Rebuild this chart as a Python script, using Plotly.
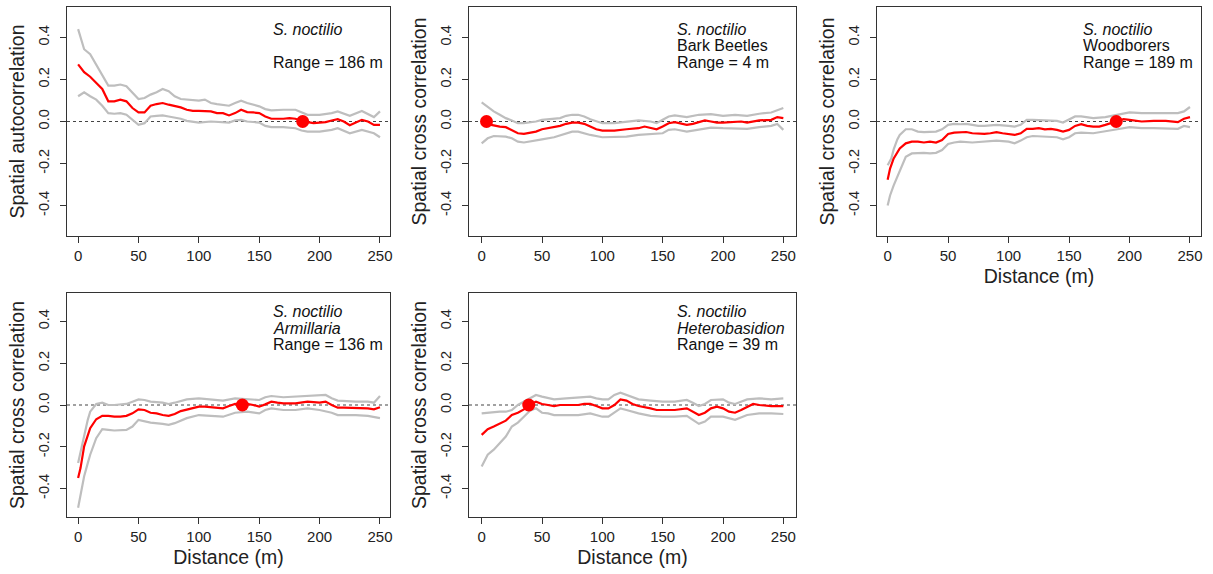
import plotly.graph_objects as go

# ---------------- data ----------------
# Panel 1: S. noctilio autocorrelation
d1_mid = [0,5,10,15,20,25,30,35,40,45,50,55,60,65,70,75,80,85,90,95,100,110,115,120,125,130,135,140,145,150,155,160,170,175,180,186,190,195,200,205,210,215,220,225,230,235,240,245,250]
r1_mid = [0.272,0.235,0.213,0.184,0.155,0.096,0.096,0.104,0.096,0.064,0.043,0.043,0.075,0.083,0.088,0.080,0.075,0.067,0.056,0.051,0.051,0.048,0.040,0.040,0.029,0.040,0.056,0.045,0.043,0.040,0.024,0.013,0.013,0.016,0.013,0.0,-0.003,-0.008,-0.005,-0.003,0.005,0.011,0.0,-0.018,-0.005,0.008,0.0,-0.016,-0.016]
d1_up = [0,5,10,15,20,25,30,35,40,45,50,55,60,65,70,75,80,85,90,95,100,105,110,115,120,125,130,135,140,145,150,155,160,170,180,190,200,210,215,225,235,245,250]
r1_up = [0.44,0.344,0.32,0.272,0.224,0.171,0.171,0.176,0.168,0.139,0.107,0.112,0.128,0.139,0.155,0.144,0.12,0.107,0.104,0.1,0.099,0.104,0.088,0.083,0.078,0.075,0.088,0.099,0.088,0.08,0.072,0.059,0.053,0.056,0.056,0.032,0.032,0.04,0.048,0.027,0.05,0.021,0.048]
d1_lo = [0,5,10,15,20,25,30,35,40,45,50,55,60,65,70,75,80,85,90,100,110,120,125,130,135,140,150,155,160,170,180,185,190,200,210,215,225,235,245,250]
r1_lo = [0.12,0.139,0.12,0.104,0.075,0.04,0.037,0.04,0.032,0.008,-0.016,-0.008,0.024,0.027,0.029,0.024,0.019,0.013,0.003,-0.005,0.0,-0.005,-0.005,0.005,0.008,0.0,-0.005,-0.021,-0.027,-0.027,-0.032,-0.043,-0.048,-0.048,-0.04,-0.032,-0.056,-0.04,-0.056,-0.075]

# Panel 2: S. noctilio x Bark Beetles
d2_mid = [0,4,8,10,15,20,25,30,35,40,45,50,55,60,65,70,75,80,85,90,95,100,110,120,130,135,140,145,150,155,160,165,170,175,180,185,190,195,200,210,215,220,225,230,240,245,250]
r2_mid = [0.008,0.0,-0.016,-0.019,-0.024,-0.027,-0.043,-0.056,-0.059,-0.053,-0.048,-0.037,-0.032,-0.024,-0.021,-0.011,-0.005,-0.005,-0.011,-0.024,-0.037,-0.043,-0.043,-0.037,-0.032,-0.024,-0.032,-0.037,-0.024,-0.008,-0.003,-0.011,-0.016,-0.011,-0.002,0.005,0.0,-0.005,-0.005,-0.003,0.0,-0.005,0.0,0.005,0.008,0.021,0.016]
d2_up = [0,5,10,15,20,25,30,35,40,45,50,55,60,65,70,75,80,85,90,95,100,110,120,130,140,145,150,155,160,170,180,190,200,210,220,230,240,250]
r2_up = [0.091,0.069,0.048,0.032,0.016,0.005,-0.008,-0.008,-0.005,0.0,0.008,0.011,0.016,0.016,0.027,0.032,0.032,0.024,0.011,0.0,-0.008,-0.008,0.0,0.005,0.0,-0.008,0.008,0.024,0.029,0.021,0.032,0.035,0.027,0.032,0.027,0.037,0.043,0.064]
d2_lo = [0,5,10,20,25,30,35,40,50,60,70,75,80,90,100,110,120,130,140,150,155,160,170,180,190,200,210,220,230,240,245,250]
r2_lo = [-0.104,-0.08,-0.069,-0.072,-0.08,-0.096,-0.1,-0.096,-0.085,-0.075,-0.056,-0.048,-0.048,-0.064,-0.075,-0.075,-0.072,-0.064,-0.059,-0.056,-0.04,-0.037,-0.048,-0.037,-0.029,-0.032,-0.032,-0.035,-0.027,-0.021,-0.012,-0.04]

# Panel 3: S. noctilio x Woodborers
d3_mid = [0,2,5,8,10,15,20,25,30,35,40,45,50,55,60,65,70,75,80,85,90,95,100,105,110,115,120,125,130,135,140,145,150,155,160,165,170,175,180,185,189,195,200,205,210,220,230,240,245,250]
r3_mid = [-0.277,-0.224,-0.176,-0.144,-0.128,-0.104,-0.096,-0.096,-0.1,-0.096,-0.1,-0.088,-0.059,-0.053,-0.053,-0.05,-0.056,-0.059,-0.059,-0.056,-0.051,-0.056,-0.061,-0.064,-0.056,-0.035,-0.035,-0.032,-0.037,-0.035,-0.04,-0.048,-0.04,-0.021,-0.013,-0.021,-0.024,-0.024,-0.016,-0.008,0.0,0.011,0.008,0.005,0.0,0.003,0.003,-0.003,0.013,0.021]
d3_up = [0,3,5,8,10,15,20,25,30,35,40,45,50,55,60,65,70,75,80,90,100,105,110,115,120,130,140,145,150,155,160,170,180,190,200,210,220,230,240,245,250]
r3_up = [-0.208,-0.176,-0.133,-0.085,-0.064,-0.037,-0.037,-0.048,-0.051,-0.051,-0.048,-0.037,-0.016,-0.011,-0.013,-0.011,-0.016,-0.021,-0.021,-0.016,-0.021,-0.024,-0.016,0.008,0.008,0.005,0.003,-0.005,0.008,0.024,0.024,0.016,0.021,0.032,0.043,0.04,0.04,0.04,0.04,0.048,0.069]
d3_lo = [0,2,5,8,10,15,20,25,30,35,40,45,50,55,60,70,80,90,100,105,110,115,120,130,140,145,150,155,160,170,180,190,200,210,220,230,240,245,250]
r3_lo = [-0.4,-0.352,-0.304,-0.264,-0.232,-0.168,-0.152,-0.149,-0.149,-0.152,-0.149,-0.136,-0.107,-0.1,-0.096,-0.1,-0.096,-0.091,-0.096,-0.104,-0.091,-0.075,-0.069,-0.072,-0.075,-0.085,-0.075,-0.056,-0.053,-0.056,-0.048,-0.037,-0.027,-0.032,-0.032,-0.032,-0.035,-0.021,-0.027]

# Panel 4: S. noctilio x Armillaria
d4_mid = [0,2,5,8,10,15,20,25,30,35,40,45,50,55,60,65,70,75,80,85,90,95,100,105,110,115,120,125,130,136,140,145,150,155,160,165,170,180,190,200,205,210,215,220,230,240,245,250]
r4_mid = [-0.349,-0.302,-0.198,-0.151,-0.111,-0.068,-0.052,-0.052,-0.056,-0.056,-0.052,-0.04,-0.021,-0.024,-0.037,-0.04,-0.048,-0.052,-0.043,-0.029,-0.021,-0.016,-0.008,-0.008,-0.011,-0.016,-0.016,-0.005,0.005,0.0,0.005,0.0,-0.008,0.003,0.016,0.011,0.008,0.008,0.016,0.011,0.016,0.0,-0.013,-0.013,-0.013,-0.016,-0.021,-0.011]
d4_up = [0,3,5,8,10,15,20,25,30,40,45,50,55,60,70,75,80,90,100,110,120,130,140,150,155,160,170,180,190,200,205,210,215,230,240,245,250]
r4_up = [-0.278,-0.198,-0.151,-0.071,-0.032,0.005,0.011,0.0,0.0,0.005,0.016,0.027,0.024,0.016,0.011,0.005,0.011,0.027,0.032,0.027,0.021,0.032,0.027,0.024,0.037,0.043,0.037,0.04,0.043,0.048,0.048,0.032,0.021,0.016,0.016,0.011,0.043]
d4_lo = [0,2,5,8,10,15,20,25,30,40,45,50,55,60,70,75,80,90,100,110,120,130,140,150,155,160,170,180,190,200,210,215,230,240,250]
r4_lo = [-0.492,-0.437,-0.341,-0.278,-0.238,-0.159,-0.116,-0.119,-0.122,-0.119,-0.103,-0.071,-0.079,-0.084,-0.09,-0.095,-0.087,-0.063,-0.048,-0.052,-0.056,-0.037,-0.032,-0.04,-0.024,-0.016,-0.024,-0.024,-0.016,-0.024,-0.037,-0.048,-0.048,-0.052,-0.063]

# Panel 5: S. noctilio x Heterobasidion
d5_mid = [0,5,10,15,20,25,30,35,39,45,50,55,60,65,70,75,80,85,90,95,100,105,110,115,120,125,130,140,145,150,160,170,175,180,185,190,195,200,205,210,215,220,225,230,240,250]
r5_mid = [-0.143,-0.116,-0.103,-0.09,-0.075,-0.048,-0.037,-0.021,0.0,0.016,0.005,0.0,-0.005,0.0,0.0,-0.003,0.0,0.005,0.005,-0.005,-0.016,-0.016,0.0,0.027,0.021,0.005,-0.005,-0.016,-0.024,-0.024,-0.024,-0.016,-0.032,-0.048,-0.037,-0.016,-0.008,-0.016,-0.032,-0.037,-0.024,-0.011,0.005,0.0,-0.005,-0.005]
d5_up = [0,5,10,15,20,25,30,35,40,45,50,55,60,70,80,90,95,100,105,110,115,120,125,130,140,150,160,170,175,180,185,190,200,205,210,220,230,240,250]
r5_up = [-0.04,-0.037,-0.037,-0.032,-0.032,-0.024,0.0,0.016,0.032,0.048,0.04,0.032,0.027,0.032,0.037,0.04,0.032,0.027,0.027,0.048,0.059,0.048,0.037,0.027,0.021,0.016,0.016,0.024,0.011,-0.005,0.005,0.024,0.027,0.011,0.005,0.027,0.032,0.027,0.032]
d5_lo = [0,5,10,15,20,25,30,35,40,45,50,55,60,70,80,90,100,105,110,115,120,130,140,150,160,170,175,180,185,190,200,210,220,230,240,250]
r5_lo = [-0.294,-0.238,-0.214,-0.183,-0.151,-0.103,-0.084,-0.056,-0.027,-0.016,-0.037,-0.04,-0.048,-0.048,-0.048,-0.04,-0.056,-0.056,-0.037,-0.016,-0.024,-0.04,-0.052,-0.056,-0.056,-0.052,-0.071,-0.09,-0.079,-0.056,-0.056,-0.071,-0.048,-0.04,-0.04,-0.043]

range_m = [186, 4, 189, 136, 39]
partner = ["", "Bark Beetles", "Woodborers", "Armillaria", "Heterobasidion"]
partner_italic = [False, False, False, True, True]
y_titles = ["Spatial autocorrelation", "Spatial cross correlation", "Spatial cross correlation",
            "Spatial cross correlation", "Spatial cross correlation"]
show_xtitle = [False, False, True, True, True]
x_ticks = [0, 50, 100, 150, 200, 250]
y_ticks = [-0.4, -0.2, 0.0, 0.2, 0.4]
y_ticktext = ["-0.4", "-0.2", "0.0", "0.2", "0.4"]

series = [
    (d1_mid, r1_mid, d1_up, r1_up, d1_lo, r1_lo),
    (d2_mid, r2_mid, d2_up, r2_up, d2_lo, r2_lo),
    (d3_mid, r3_mid, d3_up, r3_up, d3_lo, r3_lo),
    (d4_mid, r4_mid, d4_up, r4_up, d4_lo, r4_lo),
    (d5_mid, r5_mid, d5_up, r5_up, d5_lo, r5_lo),
]
for s in series:
    assert len(s[0]) == len(s[1]) and len(s[2]) == len(s[3]) and len(s[4]) == len(s[5])

# ---------------- layout geometry (pixels) ----------------
W, H = 1213, 574
boxes_x = [(67, 390), (469, 796), (877, 1201), (67, 390), (469, 796)]
boxes_y = [(7, 236), (7, 236), (7, 236), (293, 517), (293, 517)]
x_ranges = [[-9.2, 258.3], [-10.5, 260.5], [-8.8, 259.1], [-9.2, 258.3], [-10.5, 260.5]]
y_ranges = [[-0.545, 0.545]] * 3 + [[-0.536, 0.536]] * 2
text_offsets = [[22, 38.5, 55]] * 3 + [[18, 35, 52]] * 2

FONT = "Arial, Liberation Sans, sans-serif"
RED = "#FF0000"
GREY = "#BEBEBE"
AX = "#333333"

fig = go.Figure()
shapes = []
annotations = []

for i in range(5):
    n = i + 1
    xa = "x" if n == 1 else f"x{n}"
    ya = "y" if n == 1 else f"y{n}"
    dm, rm, du, ru, dl, rl = series[i]
    fig.add_trace(go.Scatter(x=du, y=ru, mode="lines", line=dict(color=GREY, width=2.2),
                             xaxis=xa, yaxis=ya, showlegend=False, hoverinfo="skip"))
    fig.add_trace(go.Scatter(x=dl, y=rl, mode="lines", line=dict(color=GREY, width=2.2),
                             xaxis=xa, yaxis=ya, showlegend=False, hoverinfo="skip"))
    fig.add_trace(go.Scatter(x=dm, y=rm, mode="lines", line=dict(color=RED, width=2.2),
                             xaxis=xa, yaxis=ya, showlegend=False))
    fig.add_trace(go.Scatter(x=[range_m[i]], y=[0], mode="markers",
                             marker=dict(color=RED, size=13, line=dict(width=0)),
                             xaxis=xa, yaxis=ya, showlegend=False))

    bx0, bx1 = boxes_x[i]
    by0, by1 = boxes_y[i]
    axis_common = dict(showline=True, mirror=True, linecolor=AX, linewidth=1,
                       ticks="outside", ticklen=6, tickwidth=1, tickcolor=AX,
                       showgrid=False, zeroline=False, fixedrange=True, automargin=False)
    xaxis = dict(axis_common, domain=[bx0 / W, bx1 / W], range=x_ranges[i], anchor=ya,
                 tickvals=x_ticks, tickfont=dict(family=FONT, size=15, color="#222222"))
    if show_xtitle[i]:
        xaxis["title"] = dict(text="Distance (m)", font=dict(family=FONT, size=19.5, color="#222222"),
                              standoff=6)
    yaxis = dict(axis_common, domain=[1 - by1 / H, 1 - by0 / H], range=y_ranges[i], anchor=xa,
                 tickvals=y_ticks, ticktext=y_ticktext, tickangle=-90, ticklabelstandoff=5,
                 tickfont=dict(family=FONT, size=14.5, color="#222222"),
                 title=dict(text=y_titles[i], font=dict(family=FONT, size=19.5, color="#222222"),
                            standoff=6))
    key = "" if n == 1 else str(n)
    fig.layout["xaxis" + key] = xaxis
    fig.layout["yaxis" + key] = yaxis

    shapes.append(dict(type="line", xref=f"{xa} domain", yref=ya, x0=0, x1=1, y0=0, y1=0,
                       line=dict(color="#444444", width=1.2, dash="dot"), layer="below"))

    lines = ["<i>S. noctilio</i>"]
    if partner[i]:
        lines.append(f"<i>{partner[i]}</i>" if partner_italic[i] else partner[i])
    else:
        lines.append("")
    lines.append(f"Range = {range_m[i]} m")
    for t, off in zip(lines, text_offsets[i]):
        if not t:
            continue
        annotations.append(dict(text=t, xref=xa, x=160, yref="paper",
                                y=1 - (by0 + off) / H, xanchor="left", yanchor="middle",
                                showarrow=False, font=dict(family=FONT, size=16, color="#111111")))

fig.update_layout(width=W, height=H, margin=dict(l=0, r=0, t=0, b=0, autoexpand=False),
                  plot_bgcolor="white", paper_bgcolor="white",
                  shapes=shapes, annotations=annotations, showlegend=False)

fig.write_html("out.html", config={"displayModeBar": False},
               post_script="document.body.style.margin='0';document.body.style.overflow='hidden';")
